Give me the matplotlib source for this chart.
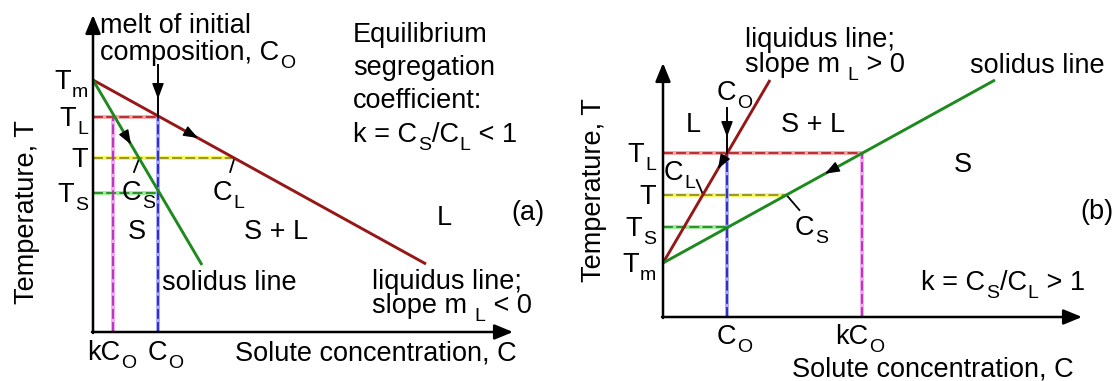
import numpy as np
import matplotlib
matplotlib.use('Agg')
import matplotlib.pyplot as plt

plt.rcParams['font.family'] = ['Liberation Sans', 'DejaVu Sans']

FS = 19.5
SUB = 0.72      # subscript size ratio
DROP = 5.5      # subscript drop, points

# ---------------- data (arbitrary units) ----------------
# panel (a): k < 1
a_liq_C = [0, 333]
a_liq_T = [252, 68]
a_sol_C = [0, 109]
a_sol_T = [252, 67]
a_levels = {'Tm': 252, 'TL': 215, 'T': 174, 'TS': 139}
a_C0 = 65
a_kC0 = 20
a_axis_end = (420, 317)

# panel (b): k > 1
b_liq_C = [0, 107]
b_liq_T = [54, 237]
b_sol_C = [0, 332]
b_sol_T = [54, 237]
b_levels = {'Tm': 54, 'TL': 164, 'T': 122, 'TS': 90}
b_C0 = 64
b_kC0 = 199
b_axis_end = (419, 254)

ylabels = {'Tm': [('T', 0), ('m', 1)], 'TL': [('T', 0), ('L', 1)],
           'T': [('T', 0)], 'TS': [('T', 0), ('S', 1)]}

RED, GREEN = '#961717', '#1c8a1c'
DASH = {
    'red': ('#b3262a', '#f4a6a6'),
    'blue': ('#2626b8', '#a8a8ff'),
    'mag': ('#b52db5', '#f3a8f3'),
    'yel': ('#8f8f2a', '#f6f65a'),
    'grn': ('#238a23', '#98ee98'),
}

RICH = []


def rich(ax, x, y, parts, ha='left', fs=FS):
    """Text with real subscripts; parts = [(text, is_sub[, gap_pt])]."""
    arts = [ax.text(x, y, parts[0][0], ha='left', va='baseline',
                    fontsize=fs * (SUB if parts[0][1] else 1))]
    for p in parts[1:]:
        txt, sub = p[0], p[1]
        gap = p[2] if len(p) > 2 else 0.6
        a = ax.annotate(txt, xy=(1, y), xycoords=(arts[-1], 'data'),
                        xytext=(gap, -DROP if sub else 0), textcoords='offset points',
                        ha='left', va='baseline', fontsize=fs * (SUB if sub else 1))
        arts.append(a)
    RICH.append((x, arts, ha))
    return arts


def c_at(Cs, Ts, T):
    Cs, Ts = np.asarray(Cs, float), np.asarray(Ts, float)
    if Ts[0] > Ts[-1]:
        return np.interp(T, Ts[::-1], Cs[::-1])
    return np.interp(T, Ts, Cs)


def t_at(Cs, Ts, C):
    return np.interp(C, Cs, Ts)


def dashed(ax, xs, ys, key):
    dark, light = DASH[key]
    ax.plot(xs, ys, color=light, lw=2.8, solid_capstyle='butt', zorder=2)
    ax.plot(xs, ys, color=dark, lw=1.3, dashes=(5.5, 1.8), zorder=3)


def head(ax, tip, direction, ms=11):
    d = np.asarray(direction, float)
    d = d / np.linalg.norm(d)
    tip = np.asarray(tip, float)
    tail = tip - d * 11
    ax.annotate('', xy=tip, xytext=tail,
                arrowprops=dict(arrowstyle='-|>,head_length=0.8,head_width=0.3',
                                color='k', lw=1, shrinkA=0, shrinkB=0,
                                mutation_scale=ms), zorder=6)


def axes_arrows(ax, end):
    kw = dict(arrowstyle='-|>,head_length=0.8,head_width=0.33', color='k',
              lw=1.8, shrinkA=0, shrinkB=0, mutation_scale=14)
    ax.annotate('', xy=(end[0], 0), xytext=(-1, 0), arrowprops=kw, zorder=7)
    ax.annotate('', xy=(0, end[1]), xytext=(0, -1), arrowprops=kw, zorder=7)


fig = plt.figure(figsize=(11.16, 3.81), dpi=100)

# ======================= panel (a) =======================
ax = fig.add_axes([0, 0, 558 / 1116, 1])
ax.set_xlim(-93, 465)
ax.set_ylim(-49, 332)
ax.axis('off')

La = a_levels
cl_a = c_at(a_liq_C, a_liq_T, La['T'])
cs_a = c_at(a_sol_C, a_sol_T, La['T'])
dashed(ax, [0, a_C0], [La['TL']] * 2, 'red')
dashed(ax, [0, cl_a], [La['T']] * 2, 'yel')
dashed(ax, [0, a_C0], [La['TS']] * 2, 'grn')
dashed(ax, [a_kC0] * 2, [0, La['TL']], 'mag')
dashed(ax, [a_C0] * 2, [0, La['TL']], 'blue')

ax.plot(a_liq_C, a_liq_T, color=RED, lw=2.1, zorder=4, solid_capstyle='butt')
ax.plot(a_sol_C, a_sol_T, color=GREEN, lw=2.1, zorder=4, solid_capstyle='butt')
axes_arrows(ax, a_axis_end)

da = (a_liq_C[1] - a_liq_C[0], a_liq_T[1] - a_liq_T[0])
head(ax, (105, t_at(a_liq_C, a_liq_T, 105)), da)
ds = (a_sol_C[1] - a_sol_C[0], a_sol_T[1] - a_sol_T[0])
head(ax, (38, t_at(a_sol_C, a_sol_T, 38)), ds)

ax.plot([a_C0, a_C0], [267, La['TL']], color='k', lw=1.4, zorder=5)
head(ax, (a_C0, 233), (0, -1), ms=12)

ax.plot([cs_a, cs_a - 5], [La['T'] - 1, 160], color='k', lw=1.3)
ax.plot([cl_a, cl_a - 4], [La['T'] - 1, 160], color='k', lw=1.3)

for k in ['Tm', 'TL', 'T', 'TS']:
    rich(ax, -5, La[k] - 9, ylabels[k], ha='right')
ax.text(-66, 120, 'Temperature, T', rotation=90, ha='center', va='center', fontsize=FS)
rich(ax, 7, 299, [('melt of initial', 0)])
rich(ax, 7, 272, [('composition, C', 0), ('O', 1)])
rich(ax, 260, 290, [('Equilibrium', 0)])
rich(ax, 260, 257, [('segregation', 0)])
rich(ax, 260, 224, [('coefficient:', 0)])
rich(ax, 260, 190, [('k = C', 0), ('S', 1), ('/C', 0), ('L', 1), (' < 1', 0)])
rich(ax, 29, 132, [('C', 0), ('S', 1)])
rich(ax, 120, 132, [('C', 0), ('L', 1)])
ax.text(44, 100, 'S', ha='center', va='center', fontsize=FS)
ax.text(183, 100, 'S + L', ha='center', va='center', fontsize=FS)
ax.text(351, 114, 'L', ha='center', va='center', fontsize=FS)
ax.text(435, 119, '(a)', ha='center', va='center', fontsize=FS)
rich(ax, 69, 42, [('solidus line', 0)])
rich(ax, 279, 43, [('liquidus line;', 0)])
rich(ax, 279, 19, [('slope m', 0), ('L', 1, 5), (' < 0', 0)])
rich(ax, a_kC0 - 1, -28, [('kC', 0), ('O', 1)], ha='center')
rich(ax, a_C0 - 10, -28, [('C', 0), ('O', 1)])
rich(ax, 142, -29, [('Solute concentration, C', 0)])

# ======================= panel (b) =======================
bx = fig.add_axes([558 / 1116, 0, 558 / 1116, 1])
bx.set_xlim(-105, 453)
bx.set_ylim(-64, 317)
bx.axis('off')

Lb = b_levels
cl_b = c_at(b_liq_C, b_liq_T, Lb['T'])
cs_b = c_at(b_sol_C, b_sol_T, Lb['T'])
dashed(bx, [0, b_kC0], [Lb['TL']] * 2, 'red')
dashed(bx, [0, cs_b], [Lb['T']] * 2, 'yel')
dashed(bx, [0, b_C0], [Lb['TS']] * 2, 'grn')
dashed(bx, [b_C0] * 2, [0, Lb['TL']], 'blue')
dashed(bx, [b_kC0] * 2, [0, Lb['TL']], 'mag')

bx.plot(b_liq_C, b_liq_T, color=RED, lw=2.1, zorder=4, solid_capstyle='butt')
bx.plot(b_sol_C, b_sol_T, color=GREEN, lw=2.1, zorder=4, solid_capstyle='butt')
axes_arrows(bx, b_axis_end)

dl = (b_liq_C[0] - b_liq_C[1], b_liq_T[0] - b_liq_T[1])
head(bx, (55, t_at(b_liq_C, b_liq_T, 55)), dl)
dsb = (b_sol_C[0] - b_sol_C[1], b_sol_T[0] - b_sol_T[1])
head(bx, (162, t_at(b_sol_C, b_sol_T, 162)), dsb)

bx.plot([b_C0, b_C0], [209, Lb['TL']], color='k', lw=1.4, zorder=5)
head(bx, (b_C0, 180), (0, -1), ms=12)

bx.plot([cl_b - 6, cl_b], [137, Lb['T'] + 1], color='k', lw=1.3)
bx.plot([cs_b + 1, cs_b + 13], [Lb['T'] - 1, 107], color='k', lw=1.3)

for k in ['Tm', 'TL', 'T', 'TS']:
    rich(bx, -7, Lb[k] - 9, ylabels[k], ha='right')
bx.text(-69, 127, 'Temperature, T', rotation=90, ha='center', va='center', fontsize=FS)
rich(bx, 82, 270, [('liquidus line;', 0)])
rich(bx, 82, 245, [('slope m', 0), ('L', 1, 5), (' > 0', 0)])
rich(bx, 307, 244, [('solidus line', 0)])
rich(bx, 54, 217, [('C', 0), ('O', 1)])
bx.text(30, 192, 'L', ha='center', va='center', fontsize=FS)
bx.text(150, 192, 'S + L', ha='center', va='center', fontsize=FS)
bx.text(300, 152, 'S', ha='center', va='center', fontsize=FS)
bx.text(434, 105, '(b)', ha='center', va='center', fontsize=FS)
rich(bx, 1, 137, [('C', 0), ('L', 1)])
rich(bx, 132, 82, [('C', 0), ('S', 1)])
rich(bx, 258, 27, [('k = C', 0), ('S', 1), ('/C', 0), ('L', 1), (' > 1', 0)])
rich(bx, b_C0 - 10, -27, [('C', 0), ('O', 1)])
rich(bx, b_kC0 - 27, -27, [('kC', 0), ('O', 1)])
rich(bx, 129, -59, [('Solute concentration, C', 0)])

# align right / centred rich texts (1 data unit == 1 pixel)
fig.canvas.draw()
renderer = fig.canvas.get_renderer()
for x, arts, ha in RICH:
    if ha == 'left':
        continue
    bbs = [a.get_window_extent(renderer) for a in arts]
    w = max(b.x1 for b in bbs) - min(b.x0 for b in bbs)
    arts[0].set_x(x - w if ha == 'right' else x - w / 2)

fig.savefig('out.png', dpi=100, facecolor='white')
